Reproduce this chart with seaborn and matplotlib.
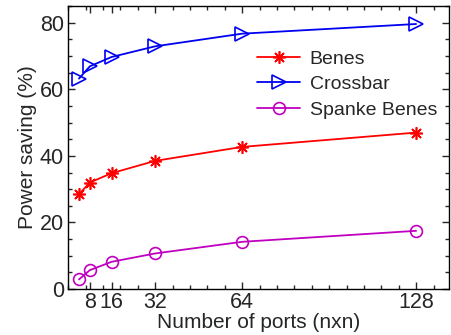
import numpy as np
import pandas as pd
import matplotlib
matplotlib.use("Agg")
import matplotlib.pyplot as plt
import seaborn as sns
from matplotlib.ticker import MultipleLocator

# ─────────────────────────────────────────────
# Data
# ─────────────────────────────────────────────
ports = [4, 8, 16, 32, 64, 128]
benes = [28.5, 32.0, 34.8, 38.5, 42.7, 47.0]
crossbar = [63.2, 66.9, 69.7, 72.9, 76.7, 79.6]
spanke_benes = [2.9, 5.7, 8.2, 10.7, 14.2, 17.5]

series_names = ["Benes", "Crossbar", "Spanke Benes"]
series_values = [benes, crossbar, spanke_benes]
x_ticks = [8, 16, 32, 64, 128]
y_ticks = [0, 20, 40, 60, 80]

colors = {"Benes": "#ff0000", "Crossbar": "#0000f0", "Spanke Benes": "#c000c0"}
markers = {"Benes": (8, 2, 0), "Crossbar": ">", "Spanke Benes": "o"}
msizes = {"Benes": 9, "Crossbar": 10, "Spanke Benes": 8.5}

df = pd.DataFrame({
    "ports": ports * len(series_names),
    "saving": [v for vals in series_values for v in vals],
    "series": [n for n in series_names for _ in ports],
})

sns.set_style("ticks")
plt.rcParams["font.family"] = ["Liberation Sans", "DejaVu Sans"]

fig = plt.figure(figsize=(4.51, 3.35), dpi=100)
ax = fig.add_axes([0.151, 0.137, 0.844, 0.845])

for name in series_names:
    sub = df[df["series"] == name]
    sns.lineplot(
        data=sub, x="ports", y="saving", ax=ax,
        color=colors[name], marker=markers[name], markersize=msizes[name],
        markeredgecolor=colors[name], markerfacecolor="none",
        markeredgewidth=1.2, linewidth=1.3, label=name,
    )

ax.set_xlim(0, 140)
ax.set_ylim(0, 85)
ax.set_xticks(x_ticks)
ax.set_yticks(y_ticks)
ax.xaxis.set_minor_locator(MultipleLocator(6.4))
ax.yaxis.set_minor_locator(MultipleLocator(5))
ax.tick_params(which="both", direction="in", top=True, right=True, labelsize=15.5,
               width=1)
ax.tick_params(axis="x", which="major", pad=2)
ax.tick_params(axis="y", which="major", pad=3)
ax.tick_params(which="major", length=5)
ax.tick_params(which="minor", length=3)
for sp in ax.spines.values():
    sp.set_linewidth(1)
    sp.set_color("black")

ax.set_xlabel("Number of ports (nxn)", fontsize=15, labelpad=0)
ax.set_ylabel("Power saving (%)", fontsize=15, labelpad=2)

ax.legend(loc="upper right", bbox_to_anchor=(1.0, 0.885), frameon=False,
          fontsize=14, handlelength=2.2, handletextpad=0.5, labelspacing=0.4,
          borderaxespad=0.2)

fig.savefig("out.png", dpi=100)
